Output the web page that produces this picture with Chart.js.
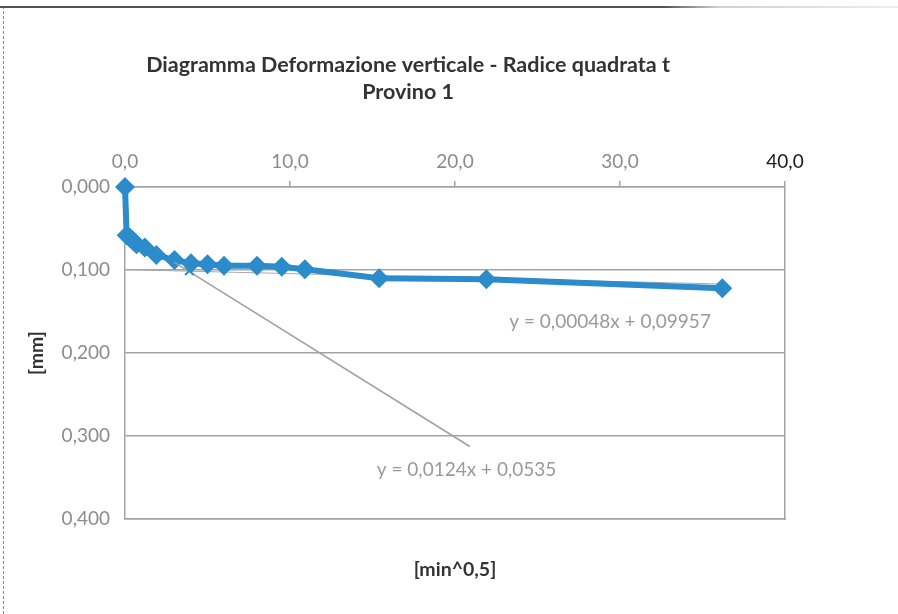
<!DOCTYPE html>
<html>
<head>
<meta charset="utf-8">
<script src="https://cdn.jsdelivr.net/npm/chart.js@4.4.1/dist/chart.umd.min.js"></script>
<style>
  html, body { margin: 0; background: #fff; }
  #frame { position: absolute; left: 3px; top: 6px; width: 895px; height: 608px; border-left: 1px dashed #8a8a8a; }
  #topline { position: absolute; left: 0; top: 6px; width: 898px; height: 2px;
    background: linear-gradient(to right, #555 0%, #555 74%, #d0d0d0 80%, #eee 100%); }
  #chart-wrap { position: absolute; left: 4px; top: 8px; width: 894px; height: 606px; }
</style>
</head>
<body>
<div id="frame"></div>
<div id="topline"></div>
<div id="chart-wrap"><canvas id="chart"></canvas></div>
<script>
// radice quadrata del tempo [min^0,5] e deformazione verticale [mm]
const sqrtT = [0, 0.1, 0.3, 0.5, 0.7, 1.2, 1.9, 3.0, 4.0, 5.0, 6.0, 8.0, 9.5, 10.9, 15.4, 21.9, 36.2];
const deformazione = [0, 0.058, 0.061, 0.065, 0.069, 0.073, 0.082, 0.088, 0.092, 0.093, 0.095, 0.095, 0.096, 0.099, 0.110, 0.111, 0.122];

// linee di tendenza (equazioni riportate sul grafico)
const trend1 = { slope: 0.0124, intercept: 0.0535, xFrom: 3.0, xTo: 20.9, label: 'y = 0,0124x + 0,0535' };
const trend2 = { slope: 0.00048, intercept: 0.09957, xFrom: 0, xTo: 36.2, label: 'y = 0,00048x + 0,09957' };

// punto di intersezione (marcatore x)
const intersX = [3.9];
const intersY = [0.101];

// posizione delle etichette delle equazioni (in unita del grafico)
const labelX = [29.4, 20.7];
const labelY = [0.163, 0.341];

const titleLines = ['Diagramma Deformazione verticale - Radice quadrata t', 'Provino 1'];
const xTitle = '[min^0,5]';
const yTitle = '[mm]';

const FONT = "Lato, 'Liberation Sans', sans-serif";
const BLUE = '#2B8BCB';
const GRID = '#a3a3a3';
const TICK_GREY = '#8c8c8c';

const trendPoints = t => [t.xFrom, t.xTo].map(v => ({ x: v, y: t.slope * v + t.intercept }));

// title and equation labels
const textPlugin = {
  id: 'textPlugin',
  afterDatasetsDraw(chart) {
    const { ctx, scales: { x, y } } = chart;
    ctx.save();
    ctx.textAlign = 'center';
    ctx.textBaseline = 'middle';
    ctx.fillStyle = '#9a9a9a';
    ctx.font = `19px ${FONT}`;
    [trend2, trend1].forEach((t, i) => {
      ctx.fillText(t.label, x.getPixelForValue(labelX[i]), y.getPixelForValue(labelY[i]));
    });
    ctx.fillStyle = '#333';
    ctx.font = `bold 21.5px ${FONT}`;
    const cx = chart.width * 0.452;
    ctx.fillText(titleLines[0], cx, 57);
    ctx.fillText(titleLines[1], cx, 84);
    ctx.restore();
  }
};

const tickFont = { family: FONT, size: 19 };
const titleFont = { family: FONT, size: 19.5, weight: 'bold' };

new Chart(document.getElementById('chart'), {
  type: 'scatter',
  data: {
    datasets: [
      {
        label: 'Intersezione',
        data: intersX.map((v, i) => ({ x: v, y: intersY[i] })),
        pointStyle: 'crossRot',
        pointRadius: 6,
        borderColor: BLUE,
        borderWidth: 2,
        showLine: false
      },
      {
        label: 'Tendenza 1',
        data: trendPoints(trend1),
        showLine: true,
        borderColor: '#a0a0a0',
        borderWidth: 1.5,
        pointRadius: 0
      },
      {
        label: 'Provino 1',
        data: sqrtT.map((v, i) => ({ x: v, y: deformazione[i] })),
        showLine: true,
        clip: false,
        borderColor: BLUE,
        backgroundColor: BLUE,
        borderWidth: 6,
        pointStyle: 'rectRot',
        pointRadius: 10,
        pointBorderWidth: 0,
        tension: 0
      },
      {
        label: 'Tendenza 2',
        data: trendPoints(trend2),
        showLine: true,
        borderColor: '#a8a8a8',
        borderWidth: 1,
        pointRadius: 0
      }
    ]
  },
  options: {
    responsive: true,
    maintainAspectRatio: false,
    animation: false,
    layout: { padding: 0 },
    plugins: { legend: { display: false }, tooltip: { enabled: false } },
    scales: {
      x: {
        type: 'linear', position: 'top', min: 0, max: 40,
        ticks: {
          stepSize: 10, padding: 8, font: tickFont,
          color: c => (c.tick && c.tick.value === 40 ? '#1a1a1a' : TICK_GREY),
          callback: v => v.toFixed(1).replace('.', ',')
        },
        grid: { drawOnChartArea: false, drawTicks: true, tickLength: 6, color: GRID, lineWidth: 1.5 },
        border: { color: GRID, width: 1.5 },
        afterFit: s => { s.height = 179; }
      },
      x2: {
        type: 'linear', position: 'bottom', min: 0, max: 40,
        ticks: { display: false },
        grid: { drawOnChartArea: false, drawTicks: false },
        border: { color: GRID, width: 1.5 },
        title: { display: true, text: xTitle, font: titleFont, color: '#333', padding: { top: 0, bottom: 33 } },
        afterFit: s => { s.height = 95; }
      },
      y: {
        type: 'linear', position: 'left', min: 0, max: 0.4, reverse: true,
        ticks: {
          stepSize: 0.1, padding: 15, font: tickFont, color: TICK_GREY,
          callback: v => v.toFixed(3).replace('.', ',')
        },
        grid: { color: GRID, lineWidth: 1.5, drawTicks: false },
        border: { color: GRID, width: 1.5 },
        title: { display: true, text: yTitle, font: titleFont, color: '#333', padding: { top: 21, bottom: 0 } },
        afterFit: s => { s.width = 121; }
      },
      y2: {
        type: 'linear', position: 'right', min: 0, max: 0.4, reverse: true,
        ticks: { display: false },
        grid: { drawOnChartArea: false, drawTicks: false },
        border: { color: GRID, width: 1.5 },
        afterFit: s => { s.width = 113; }
      }
    }
  },
  plugins: [textPlugin]
});
</script>
</body>
</html>
